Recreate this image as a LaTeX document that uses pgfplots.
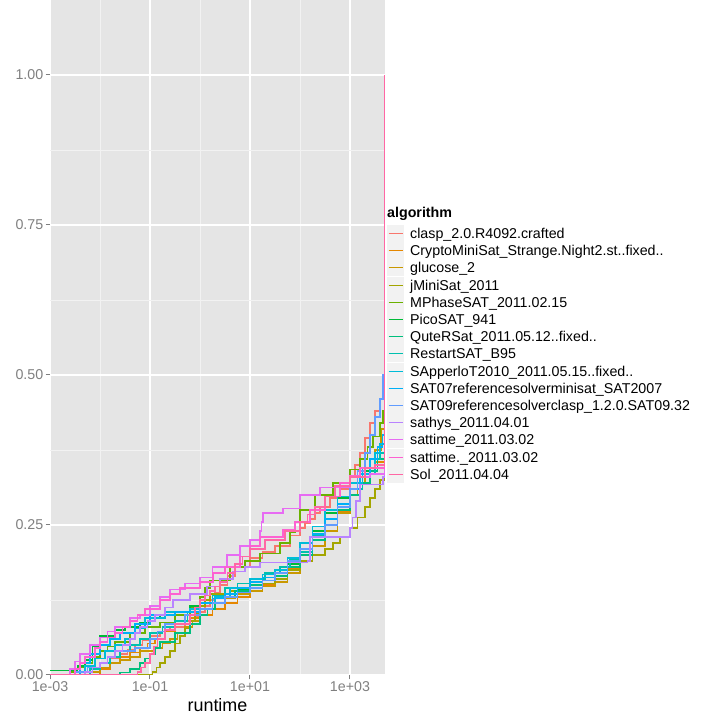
\documentclass[border=0pt]{standalone}
\usepackage{pgfplots}
\pgfplotsset{compat=1.18}
\usepackage{fontspec}
\setmainfont{Liberation Sans}
\definecolor{panelbg}{HTML}{E5E5E5}
\definecolor{gridminor}{HTML}{F2F2F2}
\definecolor{keybg}{HTML}{F2F2F2}
\definecolor{tickgray}{HTML}{7F7F7F}
\definecolor{c1}{HTML}{F8766D}
\definecolor{c2}{HTML}{E58700}
\definecolor{c3}{HTML}{C99800}
\definecolor{c4}{HTML}{A3A500}
\definecolor{c5}{HTML}{6BB100}
\definecolor{c6}{HTML}{00BA38}
\definecolor{c7}{HTML}{00BF7D}
\definecolor{c8}{HTML}{00C0AF}
\definecolor{c9}{HTML}{00BCD8}
\definecolor{c10}{HTML}{00B0F6}
\definecolor{c11}{HTML}{619CFF}
\definecolor{c12}{HTML}{B983FF}
\definecolor{c13}{HTML}{E76BF3}
\definecolor{c14}{HTML}{FD61D1}
\definecolor{c15}{HTML}{FF67A4}
\begin{document}
\begin{tikzpicture}
\useasboundingbox (0,0) rectangle (720bp,720bp);
\begin{axis}[
  at={(50bp,45bp)}, anchor=south west,
  scale only axis, width=335bp, height=675bp,
  xmin=-3, xmax=3.7, ymin=0, ymax=1.125,
  axis background/.style={fill=panelbg},
  axis line style={draw=none},
  xtick={-3,-1,1,3}, xticklabels={1e-03,1e-01,1e+01,1e+03},
  minor xtick={-2,0,2},
  ytick={0,0.25,0.5,0.75,1}, yticklabels={0.00,0.25,0.50,0.75,1.00},
  minor ytick={0.125,0.375,0.625,0.875},
  grid=both,
  major grid style={white, line width=1.1bp},
  minor grid style={gridminor, line width=0.55bp},
  xtick pos=bottom, ytick pos=left,
  tick align=outside, major tick length=4.5bp, minor tick length=0pt,
  tick style={tickgray, line width=1bp},
  xticklabel style={font=\fontsize{14.3}{16}\selectfont, text=tickgray, inner sep=2bp},
  yticklabel style={font=\fontsize{14.3}{16}\selectfont, text=tickgray, inner sep=2bp},
  xlabel={runtime}, xlabel style={font=\fontsize{18}{20}\selectfont, inner sep=1bp, yshift=-4bp},
  every axis plot/.append style={line width=1.1bp, const plot, no marks},
]
% clasp
\addplot[c1] coordinates {(-3,0) (-2.4,0.005) (-2.2,0.012) (-2,0.02) (-1.8,0.027) (-1.6,0.035) (-1.45,0.042) (-1.3,0.05) (-1.15,0.057) (-1.0,0.065) (-0.8,0.072) (-0.6,0.08) (-0.3,0.09) (-0.1,0.098) (0,0.105) (0.1,0.115) (0.2,0.125) (0.3,0.138) (0.4,0.15) (0.55,0.165) (0.7,0.18) (1,0.195) (1.25,0.205) (1.5,0.215) (1.8,0.232) (2,0.245) (2.1,0.252) (2.2,0.26) (2.3,0.27) (2.4,0.28) (2.6,0.295) (2.8,0.31) (3,0.33) (3.1,0.35) (3.2,0.37) (3.3,0.395) (3.4,0.42) (3.5,0.44) (3.6,0.46) (3.66,0.49) (3.7,1.0)};
% CryptoMiniSat
\addplot[c2] coordinates {(-3,0) (-2.0,0.01) (-1.8,0.02) (-1.6,0.03) (-1.4,0.038) (-1.2,0.045) (-1.05,0.052) (-0.9,0.06) (-0.7,0.072) (-0.5,0.085) (-0.2,0.095) (0,0.1) (0.25,0.11) (0.5,0.12) (0.75,0.13) (1,0.14) (1.25,0.15) (1.5,0.16) (1.75,0.178) (2,0.2) (2.25,0.225) (2.5,0.25) (2.75,0.272) (3,0.3) (3.15,0.32) (3.3,0.34) (3.5,0.355) (3.7,1.0)};
% glucose
\addplot[c3] coordinates {(-3,0) (-2.2,0.005) (-2.0,0.012) (-1.8,0.02) (-1.6,0.025) (-1.4,0.03) (-1.2,0.04) (-0.9,0.045) (-0.75,0.052) (-0.6,0.06) (-0.45,0.07) (-0.3,0.08) (-0.15,0.09) (0,0.1) (0.15,0.11) (0.3,0.12) (0.5,0.128) (0.7,0.135) (1,0.14) (1.25,0.148) (1.5,0.155) (1.75,0.17) (2,0.19) (2.25,0.215) (2.5,0.24) (2.75,0.27) (3,0.3) (3.15,0.32) (3.3,0.34) (3.5,0.375) (3.62,0.41) (3.7,1.0)};
% jMiniSat
\addplot[c4] coordinates {(-3,0) (-0.95,0.005) (-0.87,0.012) (-0.8,0.02) (-0.7,0.03) (-0.6,0.04) (-0.5,0.052) (-0.4,0.065) (-0.3,0.078) (-0.2,0.09) (-0.1,0.102) (0,0.115) (0.1,0.125) (0.2,0.135) (0.6,0.14) (1,0.145) (1.25,0.152) (1.5,0.16) (1.75,0.175) (2,0.19) (2.25,0.2) (2.5,0.21) (2.66,0.22) (2.8,0.23) (3,0.245) (3.15,0.262) (3.3,0.28) (3.4,0.295) (3.5,0.31) (3.6,0.325) (3.7,1.0)};
% MPhaseSAT
\addplot[c5] coordinates {(-3,0) (-2.6,0.005) (-2.45,0.012) (-2.3,0.02) (-2.15,0.03) (-2,0.04) (-1.85,0.048) (-1.7,0.055) (-1.4,0.07) (-1.1,0.08) (-0.8,0.087) (-0.5,0.1) (-0.2,0.113) (0,0.13) (0.1,0.145) (0.2,0.158) (0.6,0.18) (0.9,0.19) (1.2,0.203) (1.6,0.22) (1.8,0.237) (1.9,0.255) (2,0.275) (2.3,0.3) (2.66,0.32) (3,0.342) (3.2,0.36) (3.35,0.38) (3.46,0.397) (3.6,0.42) (3.66,0.44) (3.7,1.0)};
% PicoSAT
\addplot[c6] coordinates {(-3,0.008) (-2.45,0.015) (-2.3,0.025) (-2.15,0.047) (-2.0,0.065) (-1.7,0.075) (-1.5,0.08) (-1.2,0.088) (-1.0,0.094) (-0.8,0.1) (-0.5,0.105) (-0.2,0.115) (0,0.12) (0.25,0.128) (0.5,0.135) (0.75,0.142) (1,0.15) (1.25,0.157) (1.5,0.165) (1.75,0.185) (2,0.21) (2.25,0.24) (2.5,0.27) (2.75,0.295) (3,0.32) (3.2,0.34) (3.4,0.36) (3.55,0.37) (3.7,1.0)};
% QuteRSat
\addplot[c7] coordinates {(-3,0) (-1.6,0.004) (-1.4,0.01) (-1.2,0.02) (-1.1,0.028) (-1.0,0.035) (-0.9,0.045) (-0.8,0.055) (-0.5,0.07) (-0.2,0.085) (0,0.1) (0.15,0.11) (0.3,0.12) (0.5,0.13) (0.7,0.14) (1,0.15) (1.25,0.157) (1.5,0.165) (1.75,0.18) (2,0.2) (2.25,0.225) (2.5,0.25) (2.75,0.275) (3,0.3) (3.2,0.32) (3.4,0.34) (3.55,0.36) (3.7,1.0)};
% RestartSAT
\addplot[c8] coordinates {(-3,0) (-2.2,0.01) (-2.0,0.02) (-1.8,0.03) (-1.6,0.04) (-1.4,0.05) (-1.2,0.06) (-1,0.07) (-0.75,0.08) (-0.5,0.09) (-0.25,0.105) (0,0.12) (0.25,0.133) (0.5,0.145) (0.75,0.152) (1,0.16) (1.3,0.17) (1.6,0.18) (1.8,0.192) (2,0.205) (2.25,0.232) (2.5,0.26) (2.75,0.285) (3,0.31) (3.25,0.335) (3.5,0.36) (3.6,0.37) (3.7,1.0)};
% SApperloT
\addplot[c9] coordinates {(-3,0) (-2.3,0.015) (-2.1,0.028) (-1.9,0.04) (-1.7,0.05) (-1.5,0.06) (-1.3,0.078) (-1.1,0.095) (-0.7,0.105) (-0.2,0.11) (0,0.12) (0.3,0.13) (0.6,0.145) (1,0.16) (1.25,0.167) (1.5,0.175) (1.75,0.195) (2,0.22) (2.25,0.248) (2.5,0.275) (2.75,0.297) (3,0.32) (3.25,0.345) (3.5,0.37) (3.6,0.385) (3.7,1.0)};
% SAT07
\addplot[c10] coordinates {(-3,0) (-2.4,0.02) (-2.2,0.035) (-2,0.05) (-1.8,0.06) (-1.6,0.07) (-1.3,0.085) (-1,0.1) (-0.5,0.105) (0,0.12) (0.25,0.128) (0.5,0.135) (0.75,0.145) (1,0.155) (1.25,0.162) (1.5,0.17) (1.75,0.19) (2,0.21) (2.25,0.235) (2.5,0.26) (2.75,0.285) (3,0.31) (3.2,0.335) (3.4,0.36) (3.55,0.38) (3.65,0.4) (3.7,1.0)};
% SAT09
\addplot[c11] coordinates {(-3,0) (-2.5,0.005) (-2.25,0.012) (-2,0.02) (-1.85,0.03) (-1.7,0.04) (-1.3,0.045) (-1.0,0.06) (-0.85,0.072) (-0.7,0.085) (-0.3,0.1) (0,0.11) (0.25,0.12) (0.5,0.13) (0.75,0.138) (1,0.145) (1.25,0.157) (1.5,0.17) (1.75,0.19) (2,0.21) (2.25,0.23) (2.5,0.25) (2.75,0.28) (3,0.31) (3.15,0.34) (3.3,0.37) (3.4,0.4) (3.5,0.43) (3.6,0.46) (3.66,0.5) (3.7,1.0)};
% sathys
\addplot[c12] coordinates {(-3,0) (-2.3,0.005) (-2.15,0.012) (-2,0.02) (-1.85,0.03) (-1.7,0.04) (-1.55,0.05) (-1.4,0.06) (-1.3,0.07) (-1.2,0.08) (-1.05,0.09) (-0.9,0.1) (-0.7,0.112) (-0.54,0.125) (-0.2,0.135) (0.14,0.147) (0.4,0.16) (0.66,0.172) (0.9,0.18) (1.2,0.187) (2.15,0.19) (2.2,0.23) (3.0,0.245) (3.05,0.262) (3.12,0.29) (3.2,0.317) (3.66,0.33) (3.7,1.0)};
% sattime
\addplot[c13] coordinates {(-3,0) (-2.6,0.01) (-2.5,0.022) (-2.4,0.035) (-2.2,0.05) (-2,0.063) (-1.85,0.072) (-1.7,0.08) (-1.4,0.095) (-1.2,0.1) (-1,0.115) (-0.8,0.13) (-0.6,0.142) (-0.3,0.152) (0,0.163) (0.25,0.18) (0.54,0.2) (0.8,0.215) (1.0,0.225) (1.2,0.24) (1.23,0.255) (1.26,0.27) (1.66,0.278) (2,0.3) (2.4,0.313) (3,0.33) (3.4,0.335) (3.7,1.0)};
% sattime.
\addplot[c14] coordinates {(-3,0) (-2.5,0.01) (-2.4,0.02) (-2.3,0.03) (-2.1,0.045) (-2,0.055) (-1.85,0.062) (-1.7,0.07) (-1.55,0.08) (-1.4,0.09) (-1.25,0.1) (-1.1,0.11) (-0.8,0.125) (-0.6,0.135) (-0.4,0.145) (0,0.155) (0.26,0.17) (0.5,0.18) (0.8,0.197) (1.0,0.215) (1.2,0.23) (1.66,0.242) (1.9,0.255) (2.2,0.275) (2.5,0.298) (2.8,0.32) (3.0,0.332) (3.2,0.345) (3.7,1.0)};
% Sol
\addplot[c15] coordinates {(-3,0) (-1.25,0.005) (-1.18,0.012) (-1.1,0.02) (-1.0,0.035) (-0.92,0.048) (-0.85,0.06) (-0.7,0.075) (-0.5,0.085) (-0.2,0.1) (-0.1,0.112) (0,0.125) (0.1,0.133) (0.2,0.14) (0.3,0.148) (0.4,0.155) (0.55,0.17) (0.7,0.185) (0.85,0.198) (1,0.21) (1.3,0.225) (1.7,0.24) (2,0.255) (2.15,0.268) (2.3,0.28) (2.5,0.298) (2.7,0.315) (3,0.33) (3.3,0.345) (3.5,0.35) (3.7,1.0)};
\end{axis}
% legend (keys and labels)
\node[anchor=base west, inner sep=0pt, font=\fontsize{14.3}{17}\selectfont\bfseries] at (387bp,502bp) {algorithm};
\foreach \i/\c/\n in {1/c1/clasp\_2.0.R4092.crafted,
  2/c2/CryptoMiniSat\_Strange.Night2.st..fixed..,
  3/c3/glucose\_2,
  4/c4/jMiniSat\_2011,
  5/c5/MPhaseSAT\_2011.02.15,
  6/c6/PicoSAT\_941,
  7/c7/QuteRSat\_2011.05.12..fixed..,
  8/c8/RestartSAT\_B95,
  9/c9/SApperloT2010\_2011.05.15..fixed..,
  10/c10/SAT07referencesolverminisat\_SAT2007,
  11/c11/SAT09referencesolverclasp\_1.2.0.SAT09.32,
  12/c12/sathys\_2011.04.01,
  13/c13/sattime\_2011.03.02,
  14/c14/sattime.\_2011.03.02,
  15/c15/Sol\_2011.04.04}{
  \pgfmathsetmacro{\yc}{720-(233+round((\i-1)*17.2))-0.5}
  \fill[keybg] (387bp,\yc bp-8.5bp) rectangle (404bp,\yc bp+8.5bp);
  \draw[\c, line width=1.2bp] (388.5bp,\yc bp) -- (402.5bp,\yc bp);
  \node[anchor=base west, inner sep=0pt, font=\fontsize{14.3}{17}\selectfont] at (410bp,\yc bp-5bp) {\n};
}
\end{tikzpicture}
\end{document}
